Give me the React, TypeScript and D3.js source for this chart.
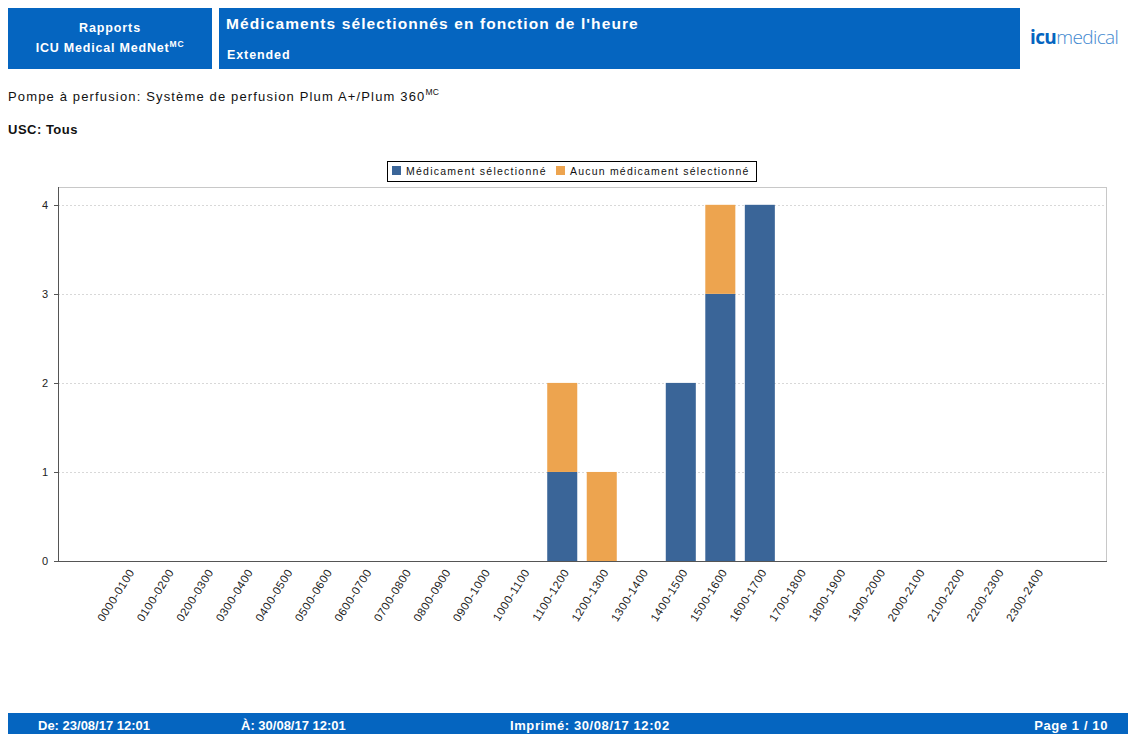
import React from "react";
import * as d3 from "d3";

const categories = [
  "0000-0100", "0100-0200", "0200-0300", "0300-0400", "0400-0500", "0500-0600",
  "0600-0700", "0700-0800", "0800-0900", "0900-1000", "1000-1100", "1100-1200",
  "1200-1300", "1300-1400", "1400-1500", "1500-1600", "1600-1700", "1700-1800",
  "1800-1900", "1900-2000", "2000-2100", "2100-2200", "2200-2300", "2300-2400",
];
const selectedValues = [0, 0, 0, 0, 0, 0, 0, 0, 0, 0, 0, 1, 0, 0, 2, 3, 4, 0, 0, 0, 0, 0, 0, 0];
const noneValues = [0, 0, 0, 0, 0, 0, 0, 0, 0, 0, 0, 1, 1, 0, 0, 1, 0, 0, 0, 0, 0, 0, 0, 0];
const seriesNames = ["Médicament sélectionné", "Aucun médicament sélectionné"];
const seriesColors = ["#3a6598", "#eda44f"];
const yTicks = [0, 1, 2, 3, 4];

const BLUE = "#0565c0";
const FONT = "'Liberation Sans', Arial, sans-serif";

export default function App() {
  const W = 1128, H = 734;
  const left = 58, right = 1106, top = 187, bottom = 561;

  const x = d3.scaleBand<string>().domain(categories).range([left, right])
    .paddingInner(0.24).paddingOuter(1.38);
  const y = d3.scaleLinear().domain([0, 4.2]).range([bottom, top]);

  const rows = categories.map((c, i) => ({ cat: c, s0: selectedValues[i], s1: noneValues[i] }));
  const stacked = d3.stack<any>().keys(["s0", "s1"])(rows);

  return (
    <div style={{ position: "absolute", left: 0, top: 0 }}>
      <svg width={W} height={H} style={{ display: "block", fontFamily: FONT }}>
        <rect width={W} height={H} fill="#fff" />
        {/* Header */}
        <rect x={8} y={8} width={204} height={61} fill={BLUE} />
        <text x={110} y={32} textAnchor="middle" fill="#fff" fontSize={12.5} fontWeight="bold" letterSpacing={0.9}>Rapports</text>
        <text x={110} y={52} textAnchor="middle" fill="#fff" fontSize={12.5} fontWeight="bold" letterSpacing={0.8}>
          ICU Medical MedNet<tspan fontSize={8.5} dy={-5}>MC</tspan>
        </text>
        <rect x={219} y={8} width={801} height={61} fill={BLUE} />
        <text x={226} y={29} fill="#fff" fontSize={15.5} fontWeight="bold" letterSpacing={1.1}>Médicaments sélectionnés en fonction de l'heure</text>
        <text x={227} y={59} fill="#fff" fontSize={12.5} fontWeight="bold" letterSpacing={0.9}>Extended</text>
        <text x={1030} y={44} fill={BLUE} fontSize={19} fontFamily="'Open Sans', sans-serif" letterSpacing={-0.6}>
          <tspan fontWeight="bold">icu</tspan><tspan fontWeight="300" fill="#3f88cf">medical</tspan>
        </text>

        <text x={8} y={101} fill="#111" fontSize={13} letterSpacing={1.15}>
          Pompe à perfusion: Système de perfusion Plum A+/Plum 360<tspan fontSize={8.5} dy={-6} letterSpacing={0.3}>MC</tspan>
        </text>
        <text x={8} y={134} fill="#111" fontSize={13} fontWeight="bold" letterSpacing={0.5}>USC: Tous</text>

        {/* Legend */}
        <rect x={387.5} y={161.5} width={369} height={20} fill="#fff" stroke="#000" strokeWidth={1} />
        <rect x={392} y={166} width={9} height={9} fill={seriesColors[0]} />
        <text x={406} y={175} fontSize={10.5} fill="#111" letterSpacing={1.25}>{seriesNames[0]}</text>
        <rect x={556} y={166} width={9} height={9} fill={seriesColors[1]} />
        <text x={570} y={175} fontSize={10.5} fill="#111" letterSpacing={1.2}>{seriesNames[1]}</text>

        {/* Plot frame */}
        <line x1={left} x2={right} y1={top + 0.5} y2={top + 0.5} stroke="#c8c8c8" />
        <line x1={right + 0.5} x2={right + 0.5} y1={top} y2={bottom} stroke="#c8c8c8" />

        {/* Grid */}
        {yTicks.filter(t => t > 0).map(t => (
          <line key={t} x1={left} x2={right} y1={Math.round(y(t)) + 0.5} y2={Math.round(y(t)) + 0.5}
            stroke="#d8d8d8" strokeDasharray="2,2" />
        ))}

        {/* Bars */}
        {stacked.map((layer, si) => (
          <g key={si} fill={seriesColors[si]}>
            {layer.map((d, i) => {
              const h = y(d[0]) - y(d[1]);
              if (h <= 0) return null;
              return <rect key={i} x={x(categories[i])} y={y(d[1])} width={x.bandwidth()} height={h} />;
            })}
          </g>
        ))}

        {/* Axes */}
        <line x1={left + 0.5} x2={left + 0.5} y1={top} y2={bottom + 1} stroke="#555" />
        <line x1={left} x2={right + 1} y1={bottom + 0.5} y2={bottom + 0.5} stroke="#555" />
        {yTicks.map(t => (
          <g key={t}>
            <line x1={left - 4} x2={left} y1={Math.round(y(t)) + 0.5} y2={Math.round(y(t)) + 0.5} stroke="#555" />
            <text x={left - 10} y={y(t)} dy="0.35em" textAnchor="end" fontSize={11} fill="#222">{t}</text>
          </g>
        ))}
        {categories.map(c => {
          const cx = (x(c) as number) + x.bandwidth() / 2;
          return (
            <text key={c} transform={`translate(${cx + 4},${570}) rotate(-58)`} textAnchor="end"
              dy="0.35em" fontSize={11.5} letterSpacing={0.5} fill="#222">{c}</text>
          );
        })}

        {/* Footer */}
        <rect x={8} y={713} width={1120} height={21} fill={BLUE} />
        <g fill="#fff" fontSize={13} fontWeight="bold">
          <text x={38} y={730}>De: 23/08/17 12:01</text>
          <text x={241} y={730}>À: 30/08/17 12:01</text>
          <text x={510} y={730} letterSpacing={0.6}>Imprimé: 30/08/17 12:02</text>
          <text x={1108} y={730} textAnchor="end" letterSpacing={0.6}>Page 1 / 10</text>
        </g>
      </svg>
    </div>
  );
}
